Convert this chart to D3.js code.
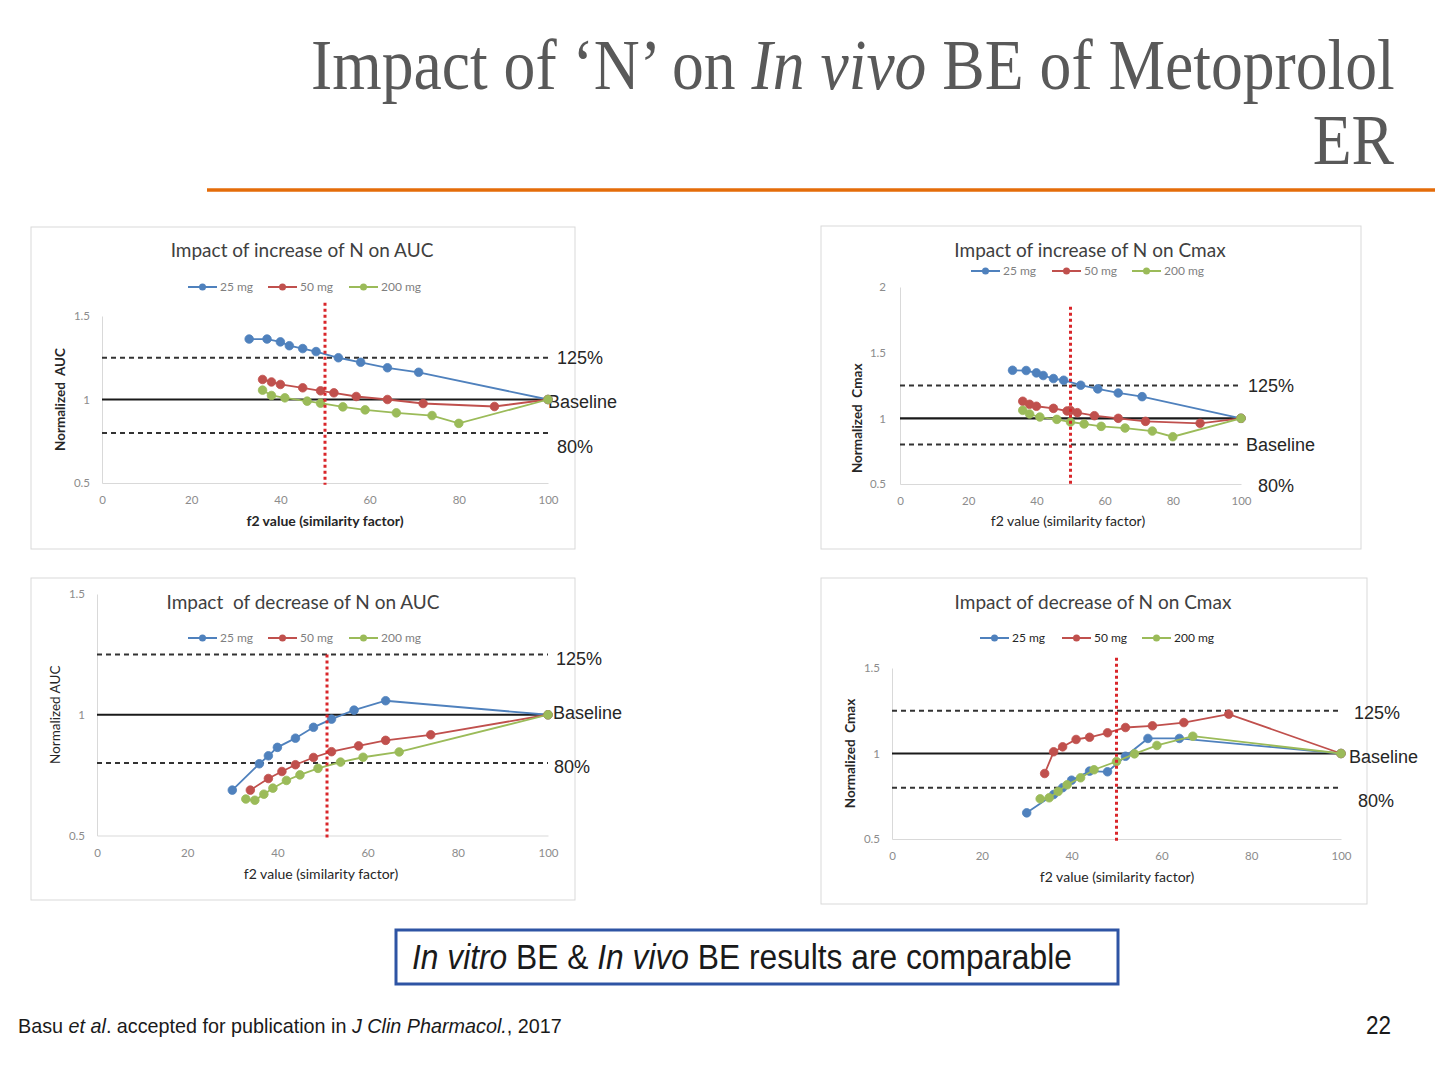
<!DOCTYPE html>
<html><head><meta charset="utf-8">
<script src="https://cdn.jsdelivr.net/npm/d3@7"></script>
<style>body{margin:0;background:#fff;} svg{display:block}</style>
</head><body>
<svg id="c" width="1435" height="1067"></svg>
<script>
// ---------- DATA ----------
const xTicks = [0, 20, 40, 60, 80, 100];
const seriesNames = ["25 mg", "50 mg", "200 mg"];
const limitValues = [1.25, 1.0, 0.8];
const limitLabels = ["125%", "Baseline", "80%"];
const f2Limit = [50, 50, 51, 50];

const panelTitles = ["Impact of increase of N on AUC", "Impact of increase of N on Cmax",
                     "Impact  of decrease of N on AUC", "Impact of decrease of N on Cmax"];
const yTitles = ["Normalized  AUC", "Normalized  Cmax", "Normalized AUC", "Normalized  Cmax"];
const xTitle = "f2 value (similarity factor)";
const yTickSets = [[0.5, 1, 1.5], [0.5, 1, 1.5, 2], [0.5, 1, 1.5], [0.5, 1, 1.5]];
const yDomains = [[0.5, 1.5], [0.5, 2], [0.5, 1.5], [0.5, 1.5]];

// increase of N on AUC
const incAUC_x25 = [33, 37, 40, 42, 45, 48, 53, 58, 64, 71, 100];
const incAUC_y25 = [1.362, 1.362, 1.345, 1.322, 1.305, 1.287, 1.25, 1.223, 1.19, 1.163, 1.0];
const incAUC_x50 = [36, 38, 40, 45, 49, 52, 57, 64, 72, 88, 100];
const incAUC_y50 = [1.12, 1.105, 1.09, 1.07, 1.052, 1.04, 1.018, 1.0, 0.976, 0.958, 1.0];
const incAUC_x200 = [36, 38, 41, 46, 49, 54, 59, 66, 74, 80, 100];
const incAUC_y200 = [1.056, 1.024, 1.01, 0.99, 0.978, 0.956, 0.938, 0.92, 0.904, 0.857, 1.0];

// increase of N on Cmax
const incCmax_x25 = [33, 37, 40, 42, 45, 48, 53, 58, 64, 71, 100];
const incCmax_y25 = [1.366, 1.364, 1.346, 1.326, 1.303, 1.29, 1.252, 1.224, 1.193, 1.165, 1.0];
const incCmax_x50 = [36, 38, 40, 45, 49, 50, 52, 57, 64, 72, 88, 100];
const incCmax_y50 = [1.13, 1.107, 1.092, 1.076, 1.056, 1.06, 1.043, 1.02, 1.0, 0.977, 0.962, 1.0];
const incCmax_x200 = [36, 38, 41, 46, 50, 54, 59, 66, 74, 80, 100];
const incCmax_y200 = [1.061, 1.033, 1.01, 0.992, 0.972, 0.957, 0.939, 0.926, 0.903, 0.86, 1.0];

// decrease of N on AUC
const decAUC_x25 = [30, 36, 38, 40, 44, 48, 52, 57, 64, 100];
const decAUC_y25 = [0.688, 0.797, 0.83, 0.865, 0.903, 0.948, 0.982, 1.019, 1.058, 1.0];
const decAUC_x50 = [34, 38, 41, 44, 48, 52, 58, 64, 74, 100];
const decAUC_y50 = [0.688, 0.736, 0.765, 0.793, 0.823, 0.847, 0.871, 0.894, 0.917, 1.0];
const decAUC_x200 = [33, 35, 37, 39, 42, 45, 49, 54, 59, 67, 100];
const decAUC_y200 = [0.651, 0.646, 0.671, 0.696, 0.728, 0.751, 0.778, 0.804, 0.824, 0.846, 1.0];

// decrease of N on Cmax
const decCmax_x25 = [30, 36, 38, 40, 44, 48, 52, 57, 64, 100];
const decCmax_y25 = [0.653, 0.76, 0.80, 0.844, 0.897, 0.893, 0.984, 1.088, 1.088, 1.0];
const decCmax_x50 = [34, 36, 38, 41, 44, 48, 52, 58, 65, 75, 100];
const decCmax_y50 = [0.883, 1.01, 1.039, 1.082, 1.095, 1.121, 1.152, 1.162, 1.181, 1.23, 1.0];
const decCmax_x200 = [33, 35, 37, 39, 42, 45, 50, 54, 59, 67, 100];
const decCmax_y200 = [0.735, 0.741, 0.778, 0.817, 0.858, 0.905, 0.953, 0.998, 1.047, 1.101, 1.0];

const panelSeries = [
  [[incAUC_x25, incAUC_y25], [incAUC_x50, incAUC_y50], [incAUC_x200, incAUC_y200]],
  [[incCmax_x25, incCmax_y25], [incCmax_x50, incCmax_y50], [incCmax_x200, incCmax_y200]],
  [[decAUC_x25, decAUC_y25], [decAUC_x50, decAUC_y50], [decAUC_x200, decAUC_y200]],
  [[decCmax_x25, decCmax_y25], [decCmax_x50, decCmax_y50], [decCmax_x200, decCmax_y200]]
];

// ---------- LAYOUT / STYLE ----------
const colors = ["#4F81BD", "#C0504D", "#9BBB59"];
const layouts = [
  {box:[31,227,544,322], x0:102, x1:548, yB:483, yT:316, xPad:13, yPad:12, titleX:302, titleY:257,
   legX:[188,268,349], legY:287, legColor:"#7f7f7f", yTitleX:60, yTitleBold:true, xTitleX:325, xTitleY:526, xTitleBold:true,
   labX:[557,548,557], labV:[1.25,0.985,0.72], vTop:1.58},
  {box:[821,226,540,323], x0:900, x1:1241, yB:484, yT:287, xPad:13, yPad:14, titleX:1090, titleY:257,
   legX:[971,1052,1132], legY:271, legColor:"#7f7f7f", yTitleX:857, yTitleBold:true, xTitleX:1068, xTitleY:526, xTitleBold:false,
   labX:[1248,1246,1258], labV:[1.25,0.8,0.49], vTop:1.85},
  {box:[31,578,544,322], x0:97, x1:548, yB:835.5, yT:594, xPad:13, yPad:12, titleX:303, titleY:609,
   legX:[188,268,349], legY:638, legColor:"#7f7f7f", yTitleX:55, yTitleBold:false, xTitleX:321, xTitleY:879, xTitleBold:false,
   labX:[556,553,554], labV:[1.231,1.011,0.787], vTop:1.25},
  {box:[821,578,546,326], x0:892, x1:1341, yB:839, yT:668, xPad:13, yPad:12, titleX:1093, titleY:609,
   legX:[980,1062,1142], legY:638, legColor:"#262626", yTitleX:850, yTitleBold:true, xTitleX:1117, xTitleY:882, xTitleBold:false,
   labX:[1354,1349,1358], labV:[1.24,0.982,0.725], vTop:1.56}
];

const svg = d3.select("#c");
svg.append("rect").attr("width",1435).attr("height",1067).attr("fill","#fff");

function fit(sel, w) {
  const cur = sel.node().getComputedTextLength();
  return w / cur;
}

// ---------- HEADER ----------
const serif = "'Liberation Serif','Times New Roman',serif";
const sans = "'Liberation Sans',Arial,sans-serif";
const t1g = svg.append("g");
const t1 = t1g.append("text").attr("font-family", serif).attr("font-size", 72).attr("fill", "#595959");
t1.append("tspan").text("Impact of \u2018N\u2019 on ");
t1.append("tspan").attr("font-style","italic").text("In vivo");
t1.append("tspan").text(" BE of Metoprolol");
const sx = fit(t1, 1084);
t1g.attr("transform", `translate(311,89) scale(${sx},1)`);
const t2g = svg.append("g");
const t2 = t2g.append("text").attr("font-family", serif).attr("font-size", 72).attr("fill", "#595959").text("ER");
const w2 = t2.node().getComputedTextLength() * sx;
t2g.attr("transform", `translate(${1394 - w2},164) scale(${sx},1)`);

svg.append("line").attr("x1",207).attr("x2",1435).attr("y1",190).attr("y2",190)
  .attr("stroke","#E46C0A").attr("stroke-width",3.5);

// ---------- PANELS ----------
const lato = "Lato,'Open Sans',sans-serif";
layouts.forEach((L, i) => {
  const g = svg.append("g");
  g.append("rect").attr("x",L.box[0]).attr("y",L.box[1]).attr("width",L.box[2]).attr("height",L.box[3])
    .attr("fill","#fff").attr("stroke","#d9d9d9").attr("stroke-width",1);

  const x = d3.scaleLinear().domain([0,100]).range([L.x0, L.x1]);
  const y = d3.scaleLinear().domain(yDomains[i]).range([L.yB, L.yT]);

  // axes
  const xa = g.append("g").attr("transform",`translate(0,${L.yB})`)
    .call(d3.axisBottom(x).tickValues(xTicks).tickSize(0).tickPadding(L.xPad).tickFormat(d3.format("")));
  const ya = g.append("g").attr("transform",`translate(${L.x0},0)`)
    .call(d3.axisLeft(y).tickValues(yTickSets[i]).tickSize(0).tickPadding(L.yPad).tickFormat(d3.format("")));
  [xa, ya].forEach(a => {
    a.select(".domain").attr("stroke","#d9d9d9").attr("stroke-width",1);
    a.selectAll("text").attr("font-family", lato).attr("font-size", 11.5).attr("fill","#8c8c8c");
  });

  // title
  g.append("text").attr("x",L.titleX).attr("y",L.titleY).attr("text-anchor","middle")
    .attr("font-family",lato).attr("font-size",19).attr("fill","#404040")
    .style("white-space","pre").text(panelTitles[i]);

  // legend
  seriesNames.forEach((n, k) => {
    const lx = L.legX[k];
    g.append("line").attr("x1",lx).attr("x2",lx+29).attr("y1",L.legY).attr("y2",L.legY)
      .attr("stroke",colors[k]).attr("stroke-width",2);
    g.append("circle").attr("cx",lx+14.5).attr("cy",L.legY).attr("r",3.5).attr("fill",colors[k]);
    g.append("text").attr("x",lx+32).attr("y",L.legY+4).attr("font-family",lato).attr("font-size",12)
      .attr("fill",L.legColor).text(n);
  });

  // axis titles
  g.append("text").attr("transform",`translate(${L.yTitleX},${y(1)}) rotate(-90)`)
    .attr("text-anchor","middle").attr("dy","0.35em").attr("font-family",lato).attr("font-size",13.5)
    .attr("font-weight", L.yTitleBold ? "bold" : "normal").attr("fill","#262626")
    .style("white-space","pre").text(yTitles[i]);
  g.append("text").attr("x",L.xTitleX).attr("y",L.xTitleY).attr("text-anchor","middle")
    .attr("font-family",lato).attr("font-size",14).attr("font-weight", L.xTitleBold ? "bold" : "normal")
    .attr("fill","#262626").text(xTitle);

  // limit lines
  limitValues.forEach((v, k) => {
    g.append("line").attr("x1",x(0)).attr("x2",x(100)).attr("y1",y(v)).attr("y2",y(v))
      .attr("stroke", k === 1 ? "#1a1a1a" : "#333")
      .attr("stroke-width", k === 1 ? 2.2 : 2)
      .attr("stroke-dasharray", k === 1 ? null : "5,4");
    g.append("text").attr("x",L.labX[k]).attr("y",y(L.labV[k])).attr("dy","0.36em")
      .attr("font-family",sans).attr("font-size",18).attr("fill","#262626").text(limitLabels[k]);
  });

  // series
  const line = d3.line().x(d => x(d[0])).y(d => y(d[1]));
  panelSeries[i].forEach((s, k) => {
    const pts = s[0].map((xv, j) => [xv, s[1][j]]);
    g.append("path").datum(pts).attr("d", line).attr("fill","none")
      .attr("stroke", colors[k]).attr("stroke-width", 1.8);
    g.selectAll(null).data(pts).enter().append("circle")
      .attr("cx", d => x(d[0])).attr("cy", d => y(d[1])).attr("r", 4.3)
      .attr("fill", colors[k]).attr("stroke", colors[k]).attr("stroke-width", 0.8);
  });

  // f2 = 50 limit
  g.append("line").attr("x1",x(f2Limit[i])).attr("x2",x(f2Limit[i]))
    .attr("y1",y(L.vTop)).attr("y2",y(0.49))
    .attr("stroke","#D9262A").attr("stroke-width",3).attr("stroke-dasharray","3,3");
});

// ---------- FOOTER ----------
svg.append("rect").attr("x",396).attr("y",930).attr("width",722).attr("height",54)
  .attr("fill","#fff").attr("stroke","#2E54A4").attr("stroke-width",3);
const bg = svg.append("g");
const bt = bg.append("text").attr("font-family",sans).attr("font-size",35).attr("fill","#1a1a1a");
bt.append("tspan").attr("font-style","italic").text("In vitro");
bt.append("tspan").text(" BE & ");
bt.append("tspan").attr("font-style","italic").text("In vivo");
bt.append("tspan").text(" BE results are comparable");
bg.attr("transform",`translate(412,969) scale(${fit(bt,660)},1)`);

const fg = svg.append("g");
const ft = fg.append("text").attr("font-family",sans).attr("font-size",20).attr("fill","#1a1a1a");
ft.append("tspan").text("Basu ");
ft.append("tspan").attr("font-style","italic").text("et al");
ft.append("tspan").text(". accepted for publication in ");
ft.append("tspan").attr("font-style","italic").text("J Clin Pharmacol.");
ft.append("tspan").text(", 2017");
fg.attr("transform",`translate(18,1033) scale(${fit(ft,544)},1)`);

const pg = svg.append("g");
const pt = pg.append("text").attr("font-family",sans).attr("font-size",26).attr("fill","#1a1a1a").text("22");
pg.attr("transform",`translate(1366,1034) scale(${fit(pt,25)},1)`);
</script>
</body></html>
